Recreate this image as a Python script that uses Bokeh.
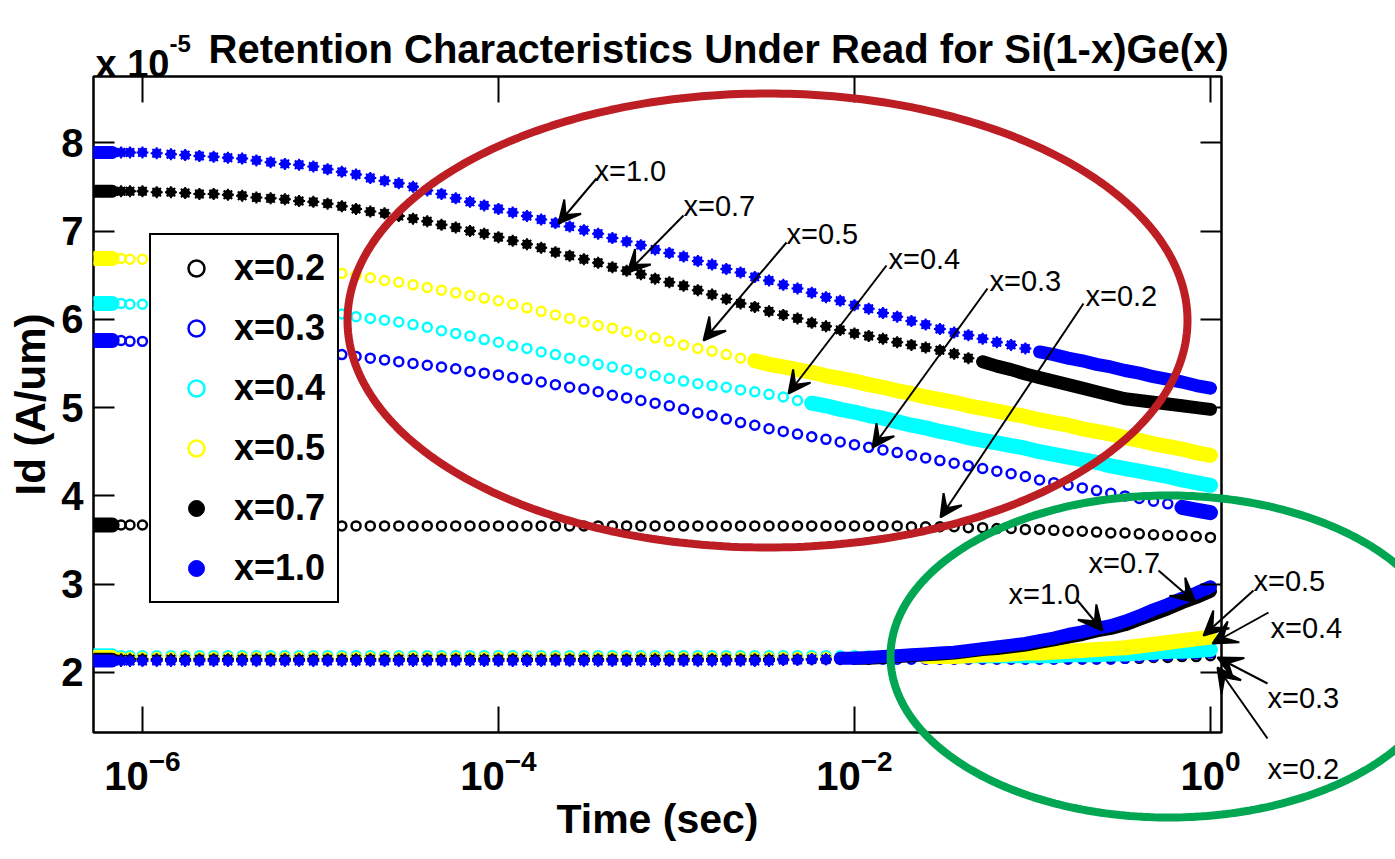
import numpy as np
from bokeh.plotting import figure
from bokeh.models import (Range1d, LogAxis, LinearAxis, FixedTicker, Legend, LegendItem,
                          Label, Arrow, VeeHead, PolyAnnotation)
from bokeh.embed import file_html
from bokeh.resources import INLINE

# ---------------- data ----------------
# sample times, as log10(time / s)
TIME_EXP = [-6.27, -6.22, -6.17, -6.12, -6.07, -6.00, -5.92, -5.84, -5.76, -5.68,
            -5.60, -5.52, -5.44, -5.36, -5.28, -5.20, -5.12, -5.04, -4.96, -4.88,
            -4.80, -4.72, -4.64, -4.56, -4.48, -4.40, -4.32, -4.24, -4.16, -4.08,
            -4.00, -3.92, -3.84, -3.76, -3.68, -3.60, -3.52, -3.44, -3.36, -3.28,
            -3.20, -3.12, -3.04, -2.96, -2.88, -2.80, -2.72, -2.64, -2.56, -2.48,
            -2.40, -2.32, -2.24, -2.16, -2.08, -2.00, -1.92, -1.84, -1.76, -1.68,
            -1.60, -1.52, -1.44, -1.36, -1.28, -1.20, -1.12, -1.04, -0.96, -0.88,
            -0.80, -0.72, -0.64, -0.56, -0.48, -0.40, -0.32, -0.24, -0.16, -0.08,
            0.00]

SERIES = ["x=0.2", "x=0.3", "x=0.4", "x=0.5", "x=0.7", "x=1.0"]

# Id in units of 1e-5 A/um, upper branches
ID_UP_02 = [3.67, 3.67, 3.67, 3.67, 3.67, 3.67, 3.67, 3.67, 3.67, 3.67,
            3.67, 3.67, 3.67, 3.67, 3.67, 3.67, 3.67, 3.67, 3.66, 3.66,
            3.66, 3.66, 3.66, 3.66, 3.66, 3.66, 3.66, 3.66, 3.66, 3.66,
            3.66, 3.66, 3.66, 3.66, 3.66, 3.66, 3.66, 3.66, 3.66, 3.66,
            3.66, 3.66, 3.66, 3.66, 3.66, 3.66, 3.66, 3.66, 3.66, 3.66,
            3.66, 3.66, 3.66, 3.66, 3.66, 3.66, 3.66, 3.66, 3.66, 3.65,
            3.65, 3.65, 3.65, 3.64, 3.64, 3.63, 3.63, 3.62, 3.62, 3.61,
            3.60, 3.60, 3.59, 3.58, 3.58, 3.57, 3.56, 3.55, 3.55, 3.54,
            3.53]
ID_UP_03 = [5.76, 5.76, 5.76, 5.76, 5.75, 5.75, 5.74, 5.74, 5.73, 5.72,
            5.72, 5.71, 5.70, 5.69, 5.67, 5.66, 5.65, 5.64, 5.62, 5.60,
            5.58, 5.56, 5.54, 5.52, 5.50, 5.48, 5.46, 5.44, 5.41, 5.39,
            5.37, 5.34, 5.32, 5.29, 5.26, 5.23, 5.21, 5.18, 5.14, 5.11,
            5.08, 5.05, 5.02, 4.98, 4.94, 4.91, 4.87, 4.83, 4.80, 4.76,
            4.73, 4.70, 4.67, 4.64, 4.61, 4.58, 4.55, 4.52, 4.49, 4.46,
            4.43, 4.40, 4.37, 4.34, 4.31, 4.28, 4.25, 4.22, 4.18, 4.15,
            4.12, 4.09, 4.06, 4.03, 4.00, 3.97, 3.94, 3.91, 3.87, 3.84,
            3.81]
ID_UP_04 = [6.18, 6.18, 6.18, 6.18, 6.17, 6.17, 6.17, 6.16, 6.16, 6.15,
            6.15, 6.14, 6.13, 6.13, 6.12, 6.11, 6.10, 6.09, 6.08, 6.06,
            6.03, 6.01, 5.99, 5.97, 5.94, 5.91, 5.87, 5.84, 5.81, 5.77,
            5.74, 5.70, 5.67, 5.63, 5.60, 5.56, 5.53, 5.49, 5.46, 5.43,
            5.39, 5.36, 5.33, 5.30, 5.27, 5.25, 5.23, 5.20, 5.18, 5.15,
            5.12, 5.08, 5.05, 5.02, 4.98, 4.95, 4.91, 4.88, 4.84, 4.80,
            4.77, 4.73, 4.70, 4.66, 4.63, 4.60, 4.57, 4.54, 4.50, 4.47,
            4.44, 4.41, 4.38, 4.34, 4.31, 4.28, 4.25, 4.22, 4.18, 4.15,
            4.12]
ID_UP_05 = [6.69, 6.69, 6.69, 6.69, 6.68, 6.68, 6.67, 6.67, 6.66, 6.65,
            6.65, 6.64, 6.63, 6.62, 6.60, 6.59, 6.58, 6.57, 6.55, 6.52,
            6.50, 6.47, 6.44, 6.42, 6.39, 6.36, 6.33, 6.30, 6.27, 6.24,
            6.21, 6.17, 6.13, 6.09, 6.05, 6.01, 5.97, 5.93, 5.90, 5.86,
            5.82, 5.79, 5.75, 5.71, 5.67, 5.64, 5.60, 5.56, 5.53, 5.49,
            5.46, 5.43, 5.40, 5.36, 5.33, 5.30, 5.26, 5.23, 5.19, 5.16,
            5.12, 5.09, 5.06, 5.02, 4.99, 4.96, 4.93, 4.90, 4.86, 4.83,
            4.80, 4.76, 4.73, 4.70, 4.66, 4.63, 4.59, 4.56, 4.53, 4.49,
            4.46]
ID_UP_07 = [7.45, 7.45, 7.45, 7.45, 7.45, 7.45, 7.44, 7.44, 7.43, 7.42,
            7.42, 7.41, 7.40, 7.38, 7.37, 7.36, 7.34, 7.33, 7.31, 7.28,
            7.25, 7.22, 7.20, 7.17, 7.14, 7.11, 7.07, 7.04, 7.00, 6.97,
            6.93, 6.89, 6.85, 6.81, 6.76, 6.72, 6.68, 6.64, 6.59, 6.55,
            6.51, 6.46, 6.42, 6.38, 6.33, 6.28, 6.23, 6.18, 6.14, 6.09,
            6.05, 6.01, 5.96, 5.92, 5.88, 5.84, 5.81, 5.78, 5.74, 5.71,
            5.68, 5.65, 5.61, 5.56, 5.52, 5.47, 5.43, 5.38, 5.34, 5.30,
            5.26, 5.22, 5.18, 5.14, 5.10, 5.08, 5.06, 5.04, 5.02, 5.00,
            4.98]
ID_UP_10 = [7.89, 7.89, 7.89, 7.89, 7.89, 7.89, 7.88, 7.87, 7.86, 7.85,
            7.84, 7.83, 7.82, 7.80, 7.78, 7.76, 7.75, 7.73, 7.70, 7.67,
            7.64, 7.60, 7.57, 7.54, 7.50, 7.46, 7.42, 7.37, 7.33, 7.29,
            7.25, 7.21, 7.17, 7.13, 7.09, 7.05, 7.01, 6.97, 6.92, 6.88,
            6.84, 6.79, 6.75, 6.71, 6.66, 6.62, 6.57, 6.53, 6.48, 6.44,
            6.39, 6.35, 6.30, 6.25, 6.21, 6.16, 6.12, 6.07, 6.03, 5.98,
            5.94, 5.89, 5.85, 5.82, 5.78, 5.74, 5.71, 5.67, 5.63, 5.60,
            5.56, 5.53, 5.49, 5.46, 5.42, 5.39, 5.35, 5.32, 5.29, 5.25,
            5.22]

# lower branches
ID_LO_02 = [2.16, 2.16, 2.16, 2.16, 2.16, 2.16, 2.16, 2.16, 2.16, 2.16,
            2.16, 2.16, 2.16, 2.16, 2.16, 2.16, 2.16, 2.16, 2.16, 2.16,
            2.16, 2.16, 2.16, 2.16, 2.16, 2.16, 2.16, 2.16, 2.16, 2.16,
            2.16, 2.16, 2.16, 2.16, 2.16, 2.16, 2.16, 2.16, 2.16, 2.16,
            2.16, 2.16, 2.16, 2.16, 2.16, 2.16, 2.16, 2.16, 2.16, 2.16,
            2.16, 2.16, 2.16, 2.16, 2.16, 2.16, 2.16, 2.16, 2.16, 2.16,
            2.16, 2.16, 2.16, 2.16, 2.16, 2.16, 2.16, 2.16, 2.16, 2.16,
            2.16, 2.16, 2.16, 2.16, 2.16, 2.16, 2.17, 2.17, 2.18, 2.18,
            2.19]
ID_LO_03 = [2.15, 2.15, 2.15, 2.15, 2.15, 2.15, 2.15, 2.15, 2.15, 2.15,
            2.15, 2.15, 2.15, 2.15, 2.15, 2.15, 2.15, 2.15, 2.15, 2.15,
            2.15, 2.15, 2.15, 2.15, 2.15, 2.15, 2.15, 2.15, 2.15, 2.15,
            2.15, 2.15, 2.15, 2.15, 2.15, 2.15, 2.15, 2.15, 2.15, 2.15,
            2.15, 2.15, 2.15, 2.15, 2.15, 2.15, 2.15, 2.15, 2.15, 2.15,
            2.15, 2.15, 2.15, 2.15, 2.15, 2.15, 2.15, 2.15, 2.15, 2.15,
            2.15, 2.15, 2.15, 2.15, 2.15, 2.15, 2.15, 2.15, 2.15, 2.15,
            2.15, 2.15, 2.15, 2.15, 2.16, 2.17, 2.18, 2.19, 2.20, 2.21,
            2.22]
ID_LO_04 = [2.19, 2.19, 2.19, 2.19, 2.19, 2.19, 2.19, 2.19, 2.19, 2.19,
            2.19, 2.19, 2.19, 2.19, 2.19, 2.19, 2.19, 2.19, 2.19, 2.19,
            2.19, 2.19, 2.19, 2.19, 2.19, 2.19, 2.19, 2.19, 2.19, 2.19,
            2.19, 2.19, 2.19, 2.19, 2.19, 2.19, 2.19, 2.19, 2.19, 2.19,
            2.19, 2.19, 2.19, 2.19, 2.19, 2.19, 2.19, 2.19, 2.19, 2.19,
            2.19, 2.19, 2.19, 2.19, 2.19, 2.19, 2.19, 2.19, 2.19, 2.19,
            2.19, 2.19, 2.19, 2.19, 2.19, 2.19, 2.19, 2.19, 2.19, 2.19,
            2.20, 2.20, 2.20, 2.21, 2.21, 2.22, 2.23, 2.24, 2.24, 2.25,
            2.26]
ID_LO_05 = [2.17, 2.17, 2.17, 2.17, 2.17, 2.17, 2.17, 2.17, 2.17, 2.17,
            2.17, 2.17, 2.17, 2.17, 2.17, 2.17, 2.17, 2.17, 2.17, 2.17,
            2.17, 2.17, 2.17, 2.17, 2.17, 2.17, 2.17, 2.17, 2.17, 2.17,
            2.17, 2.17, 2.17, 2.17, 2.17, 2.17, 2.17, 2.17, 2.17, 2.17,
            2.17, 2.17, 2.17, 2.17, 2.17, 2.17, 2.17, 2.17, 2.17, 2.17,
            2.17, 2.17, 2.17, 2.17, 2.17, 2.17, 2.17, 2.17, 2.17, 2.18,
            2.18, 2.18, 2.18, 2.19, 2.20, 2.20, 2.21, 2.22, 2.22, 2.23,
            2.24, 2.25, 2.26, 2.27, 2.28, 2.30, 2.32, 2.34, 2.36, 2.38,
            2.40]
ID_LO_07 = [2.15, 2.15, 2.15, 2.15, 2.15, 2.15, 2.15, 2.15, 2.15, 2.15,
            2.15, 2.15, 2.15, 2.15, 2.15, 2.15, 2.15, 2.15, 2.15, 2.15,
            2.15, 2.15, 2.15, 2.15, 2.15, 2.15, 2.15, 2.15, 2.15, 2.15,
            2.15, 2.15, 2.15, 2.15, 2.15, 2.15, 2.15, 2.15, 2.15, 2.15,
            2.15, 2.15, 2.15, 2.15, 2.15, 2.15, 2.15, 2.15, 2.15, 2.15,
            2.15, 2.15, 2.15, 2.15, 2.15, 2.16, 2.16, 2.17, 2.18, 2.19,
            2.20, 2.21, 2.22, 2.24, 2.26, 2.27, 2.29, 2.31, 2.34, 2.37,
            2.40, 2.43, 2.47, 2.50, 2.54, 2.60, 2.66, 2.72, 2.79, 2.85,
            2.92]
ID_LO_10 = [2.13, 2.13, 2.13, 2.13, 2.13, 2.13, 2.13, 2.13, 2.13, 2.13,
            2.13, 2.13, 2.13, 2.13, 2.13, 2.13, 2.13, 2.13, 2.13, 2.13,
            2.13, 2.13, 2.13, 2.13, 2.13, 2.13, 2.13, 2.13, 2.13, 2.13,
            2.13, 2.13, 2.13, 2.13, 2.13, 2.13, 2.13, 2.13, 2.13, 2.13,
            2.13, 2.13, 2.13, 2.13, 2.13, 2.13, 2.13, 2.13, 2.13, 2.13,
            2.14, 2.14, 2.15, 2.15, 2.16, 2.16, 2.17, 2.18, 2.19, 2.20,
            2.21, 2.22, 2.23, 2.25, 2.27, 2.29, 2.31, 2.33, 2.36, 2.39,
            2.43, 2.46, 2.50, 2.53, 2.58, 2.64, 2.71, 2.77, 2.84, 2.90,
            2.97]

X_TICKS = [1e-6, 1e-4, 1e-2, 1e0]
Y_TICKS = [2, 3, 4, 5, 6, 7, 8]

for arr in (ID_UP_02, ID_UP_03, ID_UP_04, ID_UP_05, ID_UP_07, ID_UP_10,
            ID_LO_02, ID_LO_03, ID_LO_04, ID_LO_05, ID_LO_07, ID_LO_10):
    assert len(arr) == len(TIME_EXP), len(arr)

time_s = np.array([10.0 ** e for e in TIME_EXP])
texp = np.array(TIME_EXP)

# ---------------- layout / styles ----------------
W, H = 1395, 859
FL, FR, FT, FB = 93, 1221, 76, 732          # frame edges in canvas pixels
XLO_E, XHI_E = -6.275, 0.062
YLO, YHI = 1.32, 8.75
FONT = "Liberation Sans"


def tx(px):
    return 10 ** (XLO_E + (px - FL) / (FR - FL) * (XHI_E - XLO_E))


def vy(py):
    return YLO + (FB - py) / (FB - FT) * (YHI - YLO)


p = figure(width=W, height=H, x_axis_type="log",
           x_range=Range1d(10 ** XLO_E, 10 ** XHI_E), y_range=Range1d(YLO, YHI),
           output_backend="svg", toolbar_location=None,
           min_border_left=FL, min_border_right=W - FR,
           min_border_top=FT, min_border_bottom=H - FB)
p.grid.visible = False
p.outline_line_color = "black"
p.outline_line_width = 2.5
p.outline_line_alpha = 1
p.background_fill_color = "white"
p.border_fill_color = "white"


def style_axis(ax, tick_len):
    ax.axis_line_color = None
    ax.major_tick_in = tick_len
    ax.major_tick_out = 0
    ax.major_tick_line_width = 2
    ax.major_tick_line_color = "black"
    ax.minor_tick_line_color = None
    ax.major_label_text_font = FONT
    ax.major_label_text_font_style = "bold"
    ax.major_label_text_color = "black"
    ax.axis_label_text_color = "black"


xa = p.xaxis[0]
xa.ticker = FixedTicker(ticks=X_TICKS, minor_ticks=[])
style_axis(xa, 26)
xa.major_label_text_font_size = "40px"
xa.major_label_standoff = 16
xa.axis_label = "Time (sec)"
xa.axis_label_text_font = FONT
xa.axis_label_text_font_style = "bold"
xa.axis_label_text_font_size = "41px"
xa.axis_label_standoff = 3

ya = p.yaxis[0]
ya.ticker = FixedTicker(ticks=Y_TICKS, minor_ticks=[])
style_axis(ya, 21)
ya.major_label_text_font_size = "40px"
ya.major_label_standoff = 10
ya.axis_label = "Id (A/um)"
ya.axis_label_text_font = FONT
ya.axis_label_text_font_style = "bold"
ya.axis_label_text_font_size = "42px"
ya.axis_label_standoff = 4

top = LogAxis(ticker=FixedTicker(ticks=X_TICKS, minor_ticks=[]))
style_axis(top, 26)
top.major_label_text_font_size = "1px"
top.major_label_text_color = None
top.major_label_standoff = 0
p.add_layout(top, "above")

right = LinearAxis(ticker=FixedTicker(ticks=Y_TICKS, minor_ticks=[]))
style_axis(right, 21)
right.major_label_text_font_size = "1px"
right.major_label_text_color = None
right.major_label_standoff = 0
p.add_layout(right, "right")

COLORS = ["black", "blue", "cyan", "yellow", "black", "blue"]
FILLED = [False, False, False, False, True, True]
BAND_UP = [None, -0.16, -2.24, -2.56, -1.28, -0.96]
BAND_LO = [None, None, -1.60, -1.60, -2.00, -2.08]
UPPER = [ID_UP_02, ID_UP_03, ID_UP_04, ID_UP_05, ID_UP_07, ID_UP_10]
LOWER = [ID_LO_02, ID_LO_03, ID_LO_04, ID_LO_05, ID_LO_07, ID_LO_10]


def draw(vals, color, filled, band_from):
    v = np.array(vals)
    w = 13 if filled else 15
    p.line(time_s[:3], v[:3], line_color=color, line_width=w, line_cap="round")
    if band_from is not None:
        m = texp >= band_from - 1e-9
        p.line(time_s[m], v[m], line_color=color, line_width=w, line_cap="round")
    if filled:
        r = p.scatter(time_s, v, marker="circle", size=9, fill_color=color,
                      line_color=color, line_width=1)
        p.scatter(time_s, v, marker="asterisk", size=12, line_color=color, line_width=2)
    else:
        r = p.scatter(time_s, v, marker="circle", size=9, fill_color=None,
                      line_color=color, line_width=2.5)
    return r


items = []
for name, up, lo, c, f, bu, bl in zip(SERIES, UPPER, LOWER, COLORS, FILLED, BAND_UP, BAND_LO):
    r = draw(up, c, f, bu)
    draw(lo, c, f, bl)
    items.append(LegendItem(label=name, renderers=[r]))

legend = Legend(items=items, location=(149 - FL, FB - 603), margin=0,
                label_text_font=FONT, label_text_font_size="36px",
                label_text_font_style="bold", label_text_color="black",
                border_line_color="black", border_line_width=2, border_line_alpha=1,
                padding=12, spacing=18, label_height=40, glyph_height=40,
                glyph_width=66, label_standoff=5, background_fill_alpha=1)
p.add_layout(legend)

# ---------------- overlay for the annotations (its frame spans the whole canvas) ----------------
ov = figure(width=W, height=H, x_axis_type="log", x_axis_location=None, y_axis_location=None,
            x_range=Range1d(tx(0), tx(W)), y_range=Range1d(vy(H), vy(0)),
            output_backend="svg", toolbar_location=None, min_border=0,
            min_border_left=0, min_border_right=0, min_border_top=0, min_border_bottom=0,
            background_fill_color=None, border_fill_color=None, outline_line_color=None,
            styles={"position": "absolute", "left": "0px", "top": "0px"})
ov.xgrid.visible = False
ov.ygrid.visible = False

UPPER_NOTES = [("x=1.0", 594, 170, 596, 178, 558, 223),
               ("x=0.7", 683, 205, 683, 215, 627, 272),
               ("x=0.5", 786, 233, 786, 242, 703, 340),
               ("x=0.4", 888, 258, 886, 265, 788, 393),
               ("x=0.3", 989, 280, 987, 288, 872, 447),
               ("x=0.2", 1085, 295, 1083, 303, 940, 517)]
LOWER_NOTES = [("x=1.0", 1008, 593, 1077, 600, 1102, 630),
               ("x=0.7", 1088, 562, 1158, 570, 1195, 602),
               ("x=0.5", 1253, 580, 1253, 590, 1203, 635),
               ("x=0.4", 1270, 627, 1268, 612, 1212, 643),
               ("x=0.3", 1267, 697, 1267, 683, 1217, 657),
               ("x=0.2", 1267, 768, 1267, 738, 1217, 667)]

# ellipses
th = np.linspace(0, 2 * np.pi, 361)
for (cx, cy, a, b, col) in [(767, 320, 420, 227, "#BC1E24"), (1168, 656, 278, 161, "#00A651")]:
    pxs = cx + a * np.cos(th)
    pys = cy + b * np.sin(th)
    ov.add_layout(PolyAnnotation(xs=[tx(x) for x in pxs], ys=[vy(y) for y in pys],
                                 fill_color=None, fill_alpha=0,
                                 line_color=col, line_alpha=1, line_width=8))

for notes, head in ((UPPER_NOTES, 22), (LOWER_NOTES, 24)):
    for txt, lx, ly, ax0, ay0, ax1, ay1 in notes:
        ov.add_layout(Arrow(end=VeeHead(size=head, fill_color="black", line_color="black",
                                        line_width=2),
                            x_start=tx(ax0), y_start=vy(ay0), x_end=tx(ax1), y_end=vy(ay1),
                            line_color="black", line_width=2))
        ov.add_layout(Label(x=tx(lx), y=vy(ly), text=txt, text_font=FONT,
                            text_font_size="29px", text_color="black",
                            text_baseline="alphabetic", text_align="left"))

# titles
ov.add_layout(Label(x=tx(95), y=vy(63), text="x 10", text_font=FONT, text_font_size="38px",
                    text_font_style="bold", text_color="black", text_baseline="alphabetic"))
ov.add_layout(Label(x=tx(169), y=vy(43), text="-5", text_font=FONT, text_font_size="24px",
                    text_font_style="bold", text_color="black", text_baseline="alphabetic"))
ov.add_layout(Label(x=tx(208), y=vy(48),
                    text="Retention Characteristics Under Read for Si(1-x)Ge(x)",
                    text_font=FONT, text_font_size="40px", text_font_style="bold",
                    text_color="black", text_baseline="alphabetic"))

open("out.html", "w").write(file_html([p, ov], INLINE))
